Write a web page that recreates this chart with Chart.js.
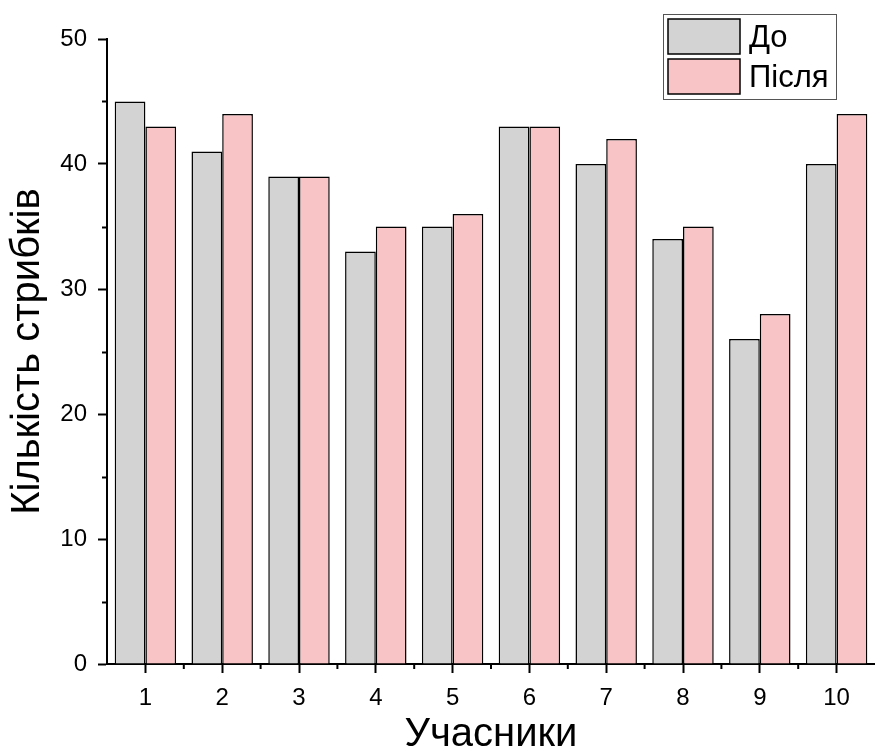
<!DOCTYPE html>
<html><head><meta charset="utf-8">
<script src="https://cdn.jsdelivr.net/npm/chart.js@4.4.0/dist/chart.umd.min.js"></script>
<style>html,body{margin:0;padding:0;background:#fff;overflow:hidden}#wrap{width:875px;height:754px}</style>
</head><body><div id="wrap"><canvas id="c" width="875" height="754"></canvas></div>
<script>
const categories = ['1','2','3','4','5','6','7','8','9','10'];
const seriesNames = ['До','Після'];
const before = [45, 41, 39, 33, 35, 43, 40, 34, 26, 40];
const after = [43, 44, 39, 35, 36, 43, 42, 35, 28, 44];
const yMajorTicks = [0, 10, 20, 30, 40, 50];
const yMinorTicks = [5, 15, 25, 35, 45];
const FONT = '"Liberation Sans", Arial, sans-serif';

const minorTicks = {
  id: 'minorTicks',
  afterDraw(chart) {
    const ctx = chart.ctx, x = chart.scales.x, y = chart.scales.y;
    ctx.save();
    ctx.strokeStyle = '#000'; ctx.lineWidth = 2;
    yMinorTicks.forEach(v => {
      const py = Math.round(y.getPixelForValue(v)) + 0.5;
      ctx.beginPath(); ctx.moveTo(x.left - 5, py); ctx.lineTo(x.left, py); ctx.stroke();
    });
    for (let i = 0; i + 1 < categories.length; i++) {
      const px = (x.getPixelForValue(i) + x.getPixelForValue(i + 1)) / 2;
      ctx.beginPath(); ctx.moveTo(px, y.bottom); ctx.lineTo(px, y.bottom + 5); ctx.stroke();
    }
    // legend
    const lx = 663, ly = 14, lw = 173, lh = 85;
    ctx.fillStyle = '#fff';
    ctx.fillRect(lx, ly, lw, lh);
    ctx.strokeStyle = '#555'; ctx.lineWidth = 1;
    ctx.strokeRect(lx + 0.5, ly + 0.5, lw, lh);
    chart.data.datasets.forEach((ds, i) => {
      const sy = ly + 5 + i * 40;
      ctx.fillStyle = ds.backgroundColor;
      ctx.fillRect(lx + 5, sy, 72, 35);
      ctx.strokeStyle = '#000'; ctx.lineWidth = 1.5;
      ctx.strokeRect(lx + 5, sy, 72, 35);
      ctx.fillStyle = '#000';
      ctx.font = '31px ' + FONT;
      ctx.textBaseline = 'middle';
      ctx.textAlign = 'left';
      ctx.fillText(ds.label, lx + 86, sy + 19);
    });
    ctx.restore();
  }
};

new Chart(document.getElementById('c'), {
  type: 'bar',
  data: {
    labels: categories,
    datasets: [
      { label: seriesNames[0], data: before, backgroundColor: '#d3d3d3', borderColor: '#000', borderWidth: 1.5, categoryPercentage: 0.8, barPercentage: 1.0 },
      { label: seriesNames[1], data: after, backgroundColor: '#f9c4c5', borderColor: '#000', borderWidth: 1.5, categoryPercentage: 0.8, barPercentage: 1.0 }
    ]
  },
  options: {
    responsive: false,
    animation: false,
    layout: { padding: { top: 39, right: -5, left: 0, bottom: 0 } },
    plugins: { legend: { display: false }, tooltip: { enabled: false } },
    scales: {
      x: {
        offset: true,
        grid: { display: true, drawOnChartArea: false, offset: false, tickLength: 9, tickColor: '#000', tickWidth: 2 },
        border: { display: true, color: '#000', width: 2 },
        ticks: { color: '#000', font: { family: FONT, size: 24 }, padding: 11, maxRotation: 0 },
        title: { display: true, text: 'Учасники', color: '#000', font: { family: FONT, size: 40, lineHeight: 0.95 }, padding: { top: 0, bottom: 0 } },
        afterFit(s) { s.height = 90; }
      },
      y: {
        min: 0, max: 50,
        afterBuildTicks(s) { s.ticks = yMajorTicks.map(v => ({ value: v })); },
        grid: { display: true, drawOnChartArea: false, tickLength: 9, tickColor: '#000', tickWidth: 2 },
        border: { display: true, color: '#000', width: 2 },
        ticks: { color: '#000', font: { family: FONT, size: 24 }, padding: 11 },
        title: { display: true, text: 'Кількість стрибків', color: '#000', font: { family: FONT, size: 40, lineHeight: 1.1 }, padding: { top: 6, bottom: 0 } },
        afterFit(s) { s.width = 107; }
      }
    }
  },
  plugins: [minorTicks]
});
</script></body></html>
